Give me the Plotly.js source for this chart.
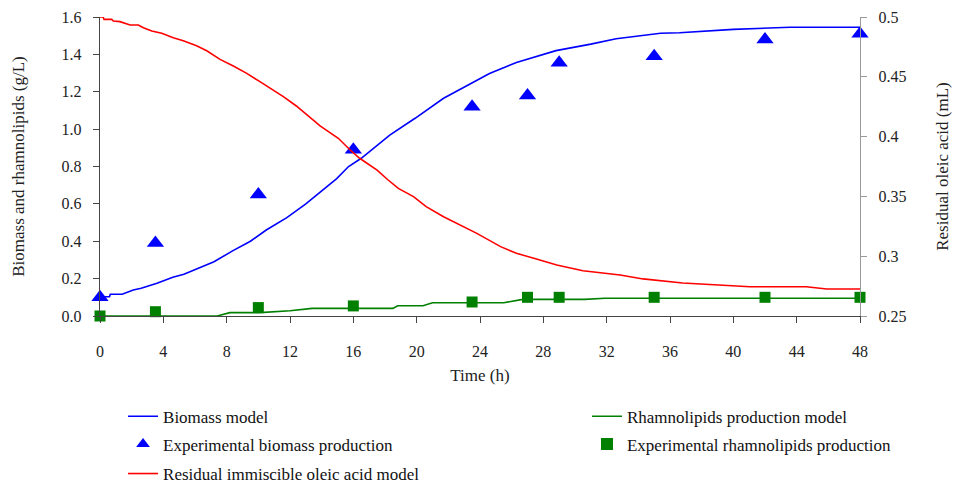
<!DOCTYPE html>
<html>
<head>
<meta charset="utf-8">
<script src="https://cdn.plot.ly/plotly-3.0.1.min.js"></script>
<style>html,body{margin:0;padding:0;background:#fff;}#chart{width:956px;height:485px;}</style>
</head>
<body>
<div id="chart"></div>
<script>
// Biomass model (g/L)
const biomassModelT = [0,0.6,0.65,1.4,2.1,2.6,3.6,4.6,5.3,6.1,7.2,8.4,9.5,10.5,11.8,13.0,13.9,14.95,15.7,16.5,18.3,19.9,21.7,23.2,24.6,26.3,28.8,31.0,32.6,35.4,36.6,40,43.6,48];
const biomassModelV = [0.103,0.103,0.116,0.116,0.139,0.148,0.175,0.207,0.223,0.25,0.29,0.35,0.40,0.46,0.526,0.60,0.66,0.735,0.80,0.844,0.968,1.058,1.165,1.236,1.298,1.357,1.42,1.455,1.484,1.513,1.516,1.534,1.545,1.545];

// Rhamnolipids production model (g/L)
const rhamnoModelT = [0,7.4,8.2,10.1,12,13.4,18.5,18.8,20.4,21,25.5,26.1,26.7,30.6,31.9,48];
const rhamnoModelV = [0,0,0.018,0.018,0.028,0.041,0.041,0.055,0.055,0.071,0.071,0.082,0.089,0.089,0.095,0.095];

// Residual immiscible oleic acid model (mL)
const oleicModelT = [0,0.2,0.25,0.74,0.84,1.26,1.9,2.42,2.74,3.27,3.9,4.63,5.26,6.1,6.74,7.58,8.42,9.27,10.1,10.95,11.58,12.4,13.06,13.9,15.05,15.8,16.4,17.5,18.2,18.84,19.8,20.6,21.7,23.8,25.3,26.3,27.4,28.85,30.5,32.85,34.3,35.8,36.8,41.05,44.6,45.9,48];
const oleicModelV = [0.5,0.5,0.498,0.498,0.4967,0.4961,0.4933,0.4933,0.491,0.4883,0.4864,0.4827,0.4802,0.476,0.4718,0.4646,0.459,0.4529,0.4459,0.439,0.4334,0.4256,0.418,0.409,0.3986,0.3888,0.3819,0.372,0.3637,0.3567,0.3498,0.3414,0.333,0.3191,0.308,0.3024,0.2982,0.2926,0.2879,0.2843,0.281,0.2787,0.2776,0.2745,0.2745,0.2726,0.2726];

// Experimental data
const expT = [0,3.5,10,16,23.5,27,29,35,42,48];
const biomassExp = [0.10,0.39,0.65,0.89,1.12,1.18,1.355,1.39,1.48,1.51];
const rhamnoExp = [0.0,0.023,0.045,0.054,0.075,0.10,0.10,0.10,0.10,0.10];

const xTicks = [0,4,8,12,16,20,24,28,32,36,40,44,48];
const yTicks = [0,0.2,0.4,0.6,0.8,1.0,1.2,1.4,1.6];
const y2Ticks = [0.25,0.3,0.35,0.4,0.45,0.5];

const FONT = 'Liberation Serif, Times New Roman, serif';

const traces = [
  {x: biomassModelT, y: biomassModelV, type: 'scatter', mode: 'lines', name: 'Biomass model',
   line: {color: '#0000FF', width: 1.6}, legend: 'legend'},
  {x: rhamnoModelT, y: rhamnoModelV, type: 'scatter', mode: 'lines', name: 'Rhamnolipids production model',
   line: {color: '#008000', width: 1.6}, legend: 'legend4'},
  {x: expT, y: biomassExp, type: 'scatter', mode: 'markers', name: 'Experimental biomass production',
   marker: {symbol: 'triangle-up', size: 15, color: '#0000FF'}, cliponaxis: false, legend: 'legend2'},
  {x: expT, y: rhamnoExp, type: 'scatter', mode: 'markers', name: 'Experimental rhamnolipids production',
   marker: {symbol: 'square', size: 11, color: '#008000'}, cliponaxis: false, legend: 'legend5'},
  {x: oleicModelT, y: oleicModelV, type: 'scatter', mode: 'lines', name: 'Residual immiscible oleic acid model',
   line: {color: '#FF0000', width: 1.6}, yaxis: 'y2', legend: 'legend3'}
];

function leg(x, y, sizing) {
  return {
    orientation: 'h', xref: 'container', yref: 'container',
    xanchor: 'left', yanchor: 'middle', x: x, y: y,
    font: {family: FONT, size: 17, color: '#111'}, bgcolor: 'rgba(0,0,0,0)', borderwidth: 0,
    itemsizing: sizing
  };
}

const layout = {
  width: 956, height: 485,
  margin: {l: 100, r: 96, t: 17, b: 169},
  paper_bgcolor: '#fff', plot_bgcolor: '#fff',
  font: {family: FONT, size: 15, color: '#222'},
  showlegend: true,
  xaxis: {
    range: [0, 48], tickvals: xTicks, ticktext: xTicks.map(String),
    showgrid: false, zeroline: false, showline: true, linecolor: '#444', linewidth: 1.3,
    ticks: 'outside', ticklen: 6, tickcolor: '#444', ticklabelstandoff: 14,
    tickfont: {family: FONT, size: 16, color: '#222'},
    title: {text: 'Time (h)', font: {family: FONT, size: 17, color: '#222'}, standoff: 10}
  },
  yaxis: {
    range: [0, 1.6], tickvals: yTicks, ticktext: yTicks.map(v => v.toFixed(1)),
    showgrid: false, zeroline: false, showline: true, linecolor: '#444', linewidth: 1.3,
    ticks: 'outside', ticklen: 6, tickcolor: '#444', ticklabelstandoff: 8,
    tickfont: {family: FONT, size: 16, color: '#222'},
    title: {text: 'Biomass and rhamnolipids (g/L)', font: {family: FONT, size: 17, color: '#222'}, standoff: 32}
  },
  yaxis2: {
    overlaying: 'y', side: 'right', range: [0.25, 0.5], tickvals: y2Ticks, ticktext: y2Ticks.map(String),
    showgrid: false, zeroline: false, showline: true, linecolor: '#999', linewidth: 1.3,
    ticks: 'outside', ticklen: 6, tickcolor: '#999', ticklabelstandoff: 8,
    tickfont: {family: FONT, size: 16, color: '#222'},
    title: {text: 'Residual oleic acid (mL)', font: {family: FONT, size: 17, color: '#222'}, standoff: 30}
  },
  legend:  leg(0.1287, 0.1408, 'trace'),
  legend2: leg(0.1287, 0.0835, 'constant'),
  legend3: leg(0.1287, 0.0227, 'trace'),
  legend4: leg(0.614, 0.1408, 'trace'),
  legend5: leg(0.614, 0.0835, 'constant')
};

Plotly.newPlot('chart', traces, layout, {displayModeBar: false, staticPlot: true});
</script>
</body>
</html>
